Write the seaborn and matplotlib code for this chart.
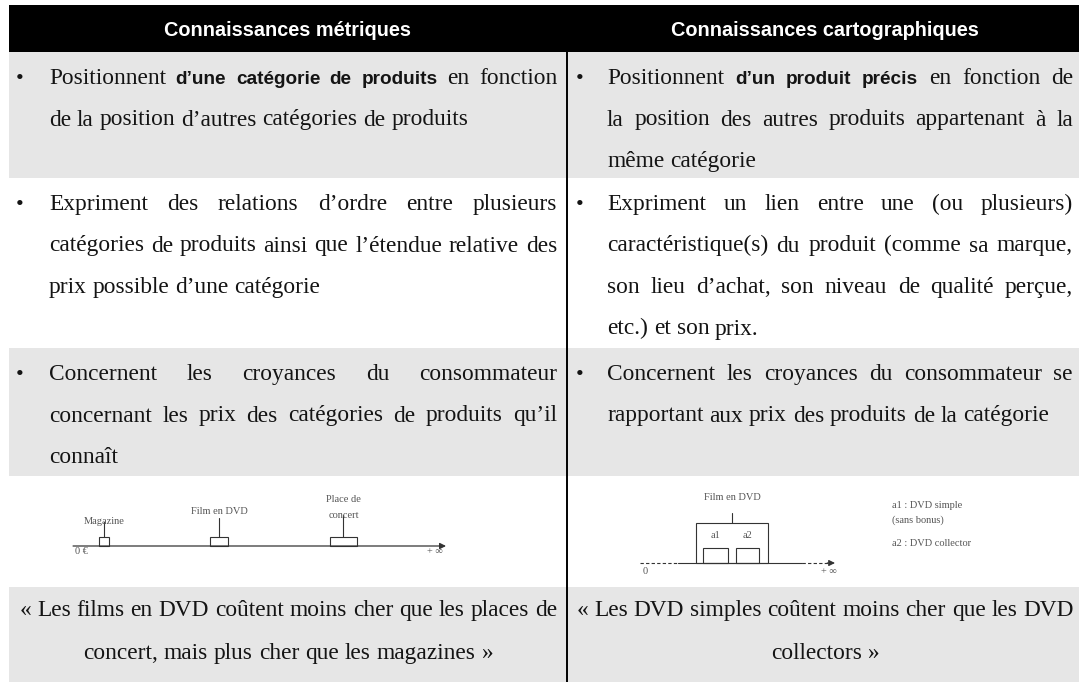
import matplotlib
matplotlib.use("Agg")
import matplotlib.pyplot as plt
from matplotlib.patches import Rectangle
import seaborn as sns

# contenu du tableau
headers = ["Connaissances métriques", "Connaissances cartographiques"]

# ** ... ** = passage en gras
metric_rows = [
    ["Positionnent **d’une catégorie de produits** en fonction",
     "de la position d’autres catégories de produits"],
    ["Expriment des relations d’ordre entre plusieurs",
     "catégories de produits ainsi que l’étendue relative des",
     "prix possible d’une catégorie"],
    ["Concernent les croyances du consommateur",
     "concernant les prix des catégories de produits qu’il",
     "connaît"],
]
carto_rows = [
    ["Positionnent **d’un produit précis** en fonction de",
     "la position des autres produits appartenant à la",
     "même catégorie"],
    ["Expriment un lien entre une (ou plusieurs)",
     "caractéristique(s) du produit (comme sa marque,",
     "son lieu d’achat, son niveau de qualité perçue,",
     "etc.) et son prix."],
    ["Concernent les croyances du consommateur se",
     "rapportant aux prix des produits de la catégorie"],
]
metric_example = ["« Les films en DVD coûtent moins cher que les places de",
                  "concert, mais plus cher que les magazines »"]
carto_example = ["« Les DVD simples coûtent moins cher que les DVD",
                 "collectors »"]

# schéma de gauche : catégories sur l'échelle des prix (0 -> 100)
cat_labels = ["Magazine", "Film en DVD", "Place de\nconcert"]
cat_price = [8.3, 39.1, 72.5]
cat_spread = [2.7, 4.8, 7.2]

# schéma de droite : produits dans la catégorie "Film en DVD"
prod_labels = ["a1", "a2"]
prod_low = [32.3, 49.2]
prod_high = [45.1, 61.0]
cat_range = [28.7, 65.6]
legend_lines = ["a1 : DVD simple", "(sans bonus)", "a2 : DVD collector"]

##############################################################################

sns.set_theme(style="white")
plt.rcParams["font.family"] = ["Liberation Serif", "DejaVu Serif"]

W, H = 1079, 682
GRAY = "#e6e6e6"
INK = "#141414"
row_tops = [52, 178, 348, 476, 587, H]
col_split = 567
col_text = [(49, 557), (607, 1073)]
col_bullet = [20, 580]
col_center = [288, 825]
LINE = 41.5

SERIF = dict(family=["Liberation Serif", "DejaVu Serif"], size=16.8, color=INK)
BOLD = dict(family=["Liberation Sans", "DejaVu Sans"], size=13.7, weight="bold", color=INK)

fig = plt.figure(figsize=(W / 100, H / 100), dpi=100)
fig.patch.set_facecolor("white")
ax = fig.add_axes([0, 0, 1, 1])
ax.set_xlim(0, W)
ax.set_ylim(H, 0)
ax.axis("off")
renderer = fig.canvas.get_renderer()

# fonds
ax.add_patch(Rectangle((9, 5), W - 9, row_tops[0] - 5, color="black", lw=0))
for i in range(5):
    if i % 2 == 0:
        ax.add_patch(Rectangle((9, row_tops[i]), W - 9, row_tops[i + 1] - row_tops[i],
                               color=GRAY, lw=0))
ax.plot([col_split, col_split], [row_tops[0], H], color="black", lw=1.4)

for c, h in enumerate(headers):
    ax.text(col_center[c], 30, h, ha="center", va="center", color="white",
            family=["Liberation Sans", "DejaVu Sans"], weight="bold", size=14.3)


def width_of(art):
    return art.get_window_extent(renderer).width


probe1 = ax.text(0, 0, "a a", **SERIF)
probe2 = ax.text(0, 0, "aa", **SERIF)
SPACE = width_of(probe1) - width_of(probe2)
probe1.remove()
probe2.remove()


def words_of(line):
    out = []
    for i, part in enumerate(line.split("**")):
        for w in part.split():
            out.append((w, i % 2 == 1))
    return out


def draw_line(line, y, x0=None, x1=None, justify=False, center=None):
    words = words_of(line)
    arts = [ax.text(0, y, w, ha="left", va="baseline", **(BOLD if b else SERIF))
            for w, b in words]
    widths = [width_of(a) for a in arts]
    gap = SPACE
    if justify and len(arts) > 1:
        gap = (x1 - x0 - sum(widths)) / (len(arts) - 1)
    if center is not None:
        x0 = center - (sum(widths) + gap * (len(arts) - 1)) / 2
    x = x0
    for a, w in zip(arts, widths):
        a.set_x(x)
        x += w + gap


for c, rows in enumerate([metric_rows, carto_rows]):
    x0, x1 = col_text[c]
    for r, lines in enumerate(rows):
        base = row_tops[r] + 32
        ax.text(col_bullet[c], base, "•", ha="center", va="baseline",
                family=["Liberation Serif"], size=16, color=INK)
        for k, line in enumerate(lines):
            draw_line(line, base + k * LINE, x0, x1, justify=k < len(lines) - 1)

for c, lines in enumerate([metric_example, carto_example]):
    for k, line in enumerate(lines):
        draw_line(line, row_tops[4] + 29 + k * 43, center=col_center[c])

# schémas
DIAG_TXT = dict(family=["Liberation Serif", "DejaVu Serif"], size=7.5, color="#555555")
DIAG_LINE = "#333333"

dl = fig.add_axes([60 / W, 1 - 565 / H, 400 / W, 75 / H])
dl.set_xlim(-3.5, 103.75)
dl.set_ylim(-19, 56)
dl.axis("off")
dl.annotate("", xy=(100, 0), xytext=(0, 0),
            arrowprops=dict(arrowstyle="-|>", color=DIAG_LINE, lw=0.9,
                            mutation_scale=9, shrinkA=0, shrinkB=0))
dl.text(0.5, -6, "0 €", ha="left", va="center", **DIAG_TXT)
dl.text(95, -6, "+ ∞", ha="left", va="center", **DIAG_TXT)
stem_top = [24, 28, 31]
label_y = [25, 35, 38]
for name, p, s, st, ly in zip(cat_labels, cat_price, cat_spread, stem_top, label_y):
    dl.add_patch(Rectangle((p - s / 2, 0), s, 9, fill=False, ec=DIAG_LINE, lw=0.8))
    dl.plot([p, p], [9, st], color=DIAG_LINE, lw=0.8)
    dl.text(p, ly, name, ha="center", va="center", linespacing=2.0, **DIAG_TXT)

dr = fig.add_axes([600 / W, 1 - 590 / H, 460 / W, 110 / H])
dr.set_xlim(-20.5, 215.4)
dr.set_ylim(-27, 83)
dr.axis("off")
dr.plot([0, cat_range[0] - 9], [0, 0], color=DIAG_LINE, lw=0.8, ls=(0, (3, 2)))
dr.plot([cat_range[0] - 9, cat_range[1] + 17.4], [0, 0], color=DIAG_LINE, lw=0.8)
dr.plot([cat_range[1] + 17.4, 97], [0, 0], color=DIAG_LINE, lw=0.8, ls=(0, (3, 2)))
dr.annotate("", xy=(100, 0), xytext=(96, 0),
            arrowprops=dict(arrowstyle="-|>", color=DIAG_LINE, lw=0.8,
                            mutation_scale=9, shrinkA=0, shrinkB=0))
dr.add_patch(Rectangle((cat_range[0], 0), cat_range[1] - cat_range[0], 40,
                       fill=False, ec=DIAG_LINE, lw=0.8))
mid = (cat_range[0] + cat_range[1]) / 2
dr.plot([mid, mid], [40, 50], color=DIAG_LINE, lw=0.8)
dr.text(mid, 65, "Film en DVD", ha="center", va="center", **DIAG_TXT)
for name, lo, hi in zip(prod_labels, prod_low, prod_high):
    dr.add_patch(Rectangle((lo, 0), hi - lo, 15, fill=False, ec=DIAG_LINE, lw=0.8))
    dr.text((lo + hi) / 2, 28, name, ha="center", va="center", **DIAG_TXT)
dr.text(1.5, -9, "0", ha="left", va="center", **DIAG_TXT)
dr.text(93, -9, "+ ∞", ha="left", va="center", **DIAG_TXT)
for txt, y in zip(legend_lines, [58, 43, 20]):
    dr.text(129, y, txt, ha="left", va="center", **DIAG_TXT)

fig.savefig("out.png", dpi=100)
